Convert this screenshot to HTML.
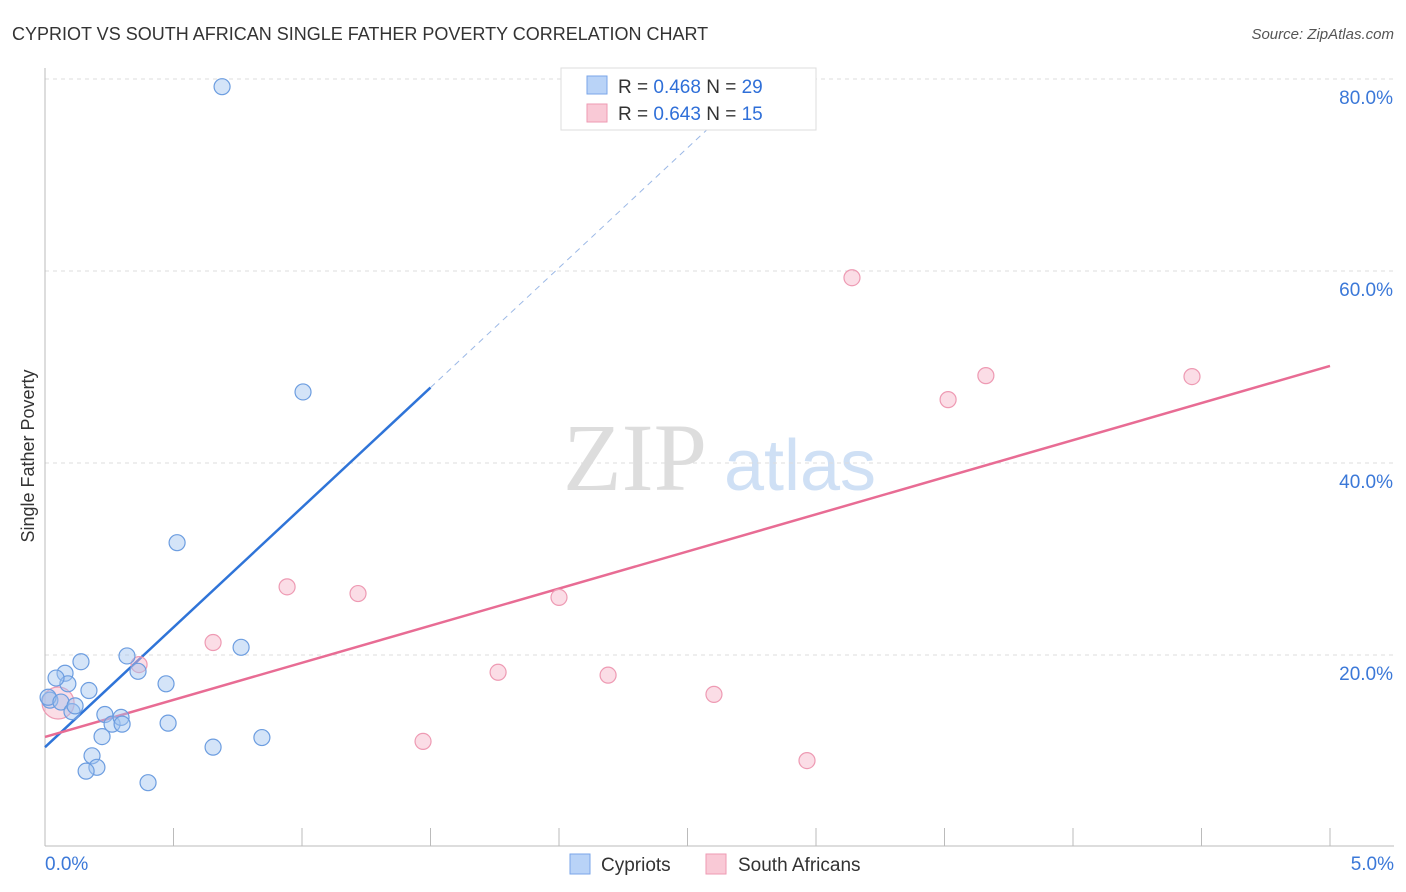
<!DOCTYPE html>
<html><head><meta charset="utf-8"><style>
body{margin:0;background:#fff;font-family:"Liberation Sans",sans-serif}
svg{display:block}
</style></head><body>
<svg id="c" width="1406" height="892">
<text x="12" y="40" font-size="18" fill="#333">CYPRIOT VS SOUTH AFRICAN SINGLE FATHER POVERTY CORRELATION CHART</text>
<text x="1394" y="39" font-size="15" fill="#555" font-style="italic" text-anchor="end">Source: ZipAtlas.com</text>
<text x="635" y="490" font-size="96" fill="#ddd" font-family="Liberation Serif,serif" text-anchor="middle">ZIP</text>
<text x="800" y="490" font-size="72" fill="#cfe0f5" text-anchor="middle">atlas</text>
<g id="grid"></g><g id="lines"></g><g id="pts"></g>
<text transform="translate(34,456) rotate(-90)" font-size="18" fill="#333" text-anchor="middle">Single Father Poverty</text>
<g>
<rect x="561" y="68" width="255" height="62" fill="#fff" stroke="#ddd"/>
<rect x="587" y="76" width="20" height="18" fill="#b9d3f7" stroke="#7aa6e8"/>
<rect x="587" y="104" width="20" height="18" fill="#f9c9d6" stroke="#ee9ab3"/>
<text x="618" y="93" font-size="19" fill="#333">R = <tspan fill="#2f6fd8">0.468</tspan>   N = <tspan fill="#2f6fd8">29</tspan></text>
<text x="618" y="120" font-size="19" fill="#333">R = <tspan fill="#2f6fd8">0.643</tspan>   N =  <tspan fill="#2f6fd8">15</tspan></text>
</g>
<g>
<rect x="570" y="854" width="20" height="20" fill="#b9d3f7" stroke="#7aa6e8"/>
<text x="601" y="871" font-size="19" fill="#333">Cypriots</text>
<rect x="706" y="854" width="20" height="20" fill="#f9c9d6" stroke="#ee9ab3"/>
<text x="738" y="871" font-size="19" fill="#333">South Africans</text>
</g>
</svg>
<script>
const blueX=[0.14,0.078,0.089,0.043,0.019,0.012,0.062,0.105,0.117,0.171,0.222,0.183,0.202,0.16,0.233,0.261,0.296,0.3,0.319,0.362,0.401,0.471,0.479,0.654,0.514,0.689,0.763,0.844,1.004];
const blueY=[19.3,18.1,17.0,17.6,15.3,15.6,15.1,14.1,14.7,16.3,11.5,9.5,8.3,7.9,13.8,12.8,13.5,12.8,19.9,18.3,6.7,17.0,12.9,10.4,31.7,79.2,20.8,11.4,47.4];
const pinkX=[0.051,0.366,0.654,0.942,1.218,1.471,1.763,2.0,2.191,2.603,2.965,3.14,3.514,3.661,4.463];
const pinkY=[15.0,19.0,21.3,27.1,26.4,11.0,18.2,26.0,17.9,15.9,9.0,59.3,46.6,49.1,49.0];
const yTicks=[20,40,60,80];
const xTicks=[0,0.5,1,1.5,2,2.5,3,3.5,4,4.5,5];
const blueLine=[10.4,24.97]; // intercept, slope
const pinkLine=[11.46,7.73];
const NS="http://www.w3.org/2000/svg";
const sx=v=>45+v*257, sy=v=>847-v*9.6;
function mk(p,t,a){const e=document.createElementNS(NS,t);for(const k in a)e.setAttribute(k,a[k]);document.getElementById(p).appendChild(e);return e;}
yTicks.forEach(t=>{
 const l=mk('grid','line',{x1:45,x2:1394,y1:sy(t),y2:sy(t),stroke:'#ddd','stroke-dasharray':'4,4'});
 
 
 const tx=mk('grid','text',{x:1393,y:sy(t)+25,'font-size':19,fill:'#3b78d8','text-anchor':'end'});
 tx.textContent=t.toFixed(1)+'%';
 
 
});
const ax=mk('grid','line',{x1:45,x2:1394,y1:846,y2:846,stroke:'#bbb'});


const ay=mk('grid','line',{x1:45,x2:45,y1:68,y2:846,stroke:'#bbb'});


xTicks.forEach(t=>{
 const l=mk('grid','line',{x1:sx(t),x2:sx(t),y1:828,y2:846,stroke:'#bbb'});
 
 
});
[[0,'0.0%','start',45],[5,'5.0%','end',1394]].forEach(a=>{
 const tx=mk('grid','text',{x:a[3],y:870,'font-size':19,fill:'#3b78d8','text-anchor':a[2]});
 tx.textContent=a[1];
 
 
});
const bf=x=>blueLine[0]+blueLine[1]*x, pf=x=>pinkLine[0]+pinkLine[1]*x;
const bl=mk('lines','line',{x1:sx(0),y1:sy(bf(0)),x2:sx(1.5),y2:sy(bf(1.5)),stroke:'#2f74d8','stroke-width':2.5});


const bd=mk('lines','line',{x1:sx(1.5),y1:sy(bf(1.5)),x2:sx(2.65),y2:sy(bf(2.65)),stroke:'#9bb8e6','stroke-width':1,'stroke-dasharray':'6,5'});


const pl=mk('lines','line',{x1:sx(0),y1:sy(pf(0)),x2:sx(5),y2:sy(pf(5)),stroke:'#e86c94','stroke-width':2.5});


pinkX.forEach((x,i)=>{
 const c=mk('pts','circle',{cx:sx(x),cy:sy(pinkY[i]),r:i===0?16:8,fill:'rgba(246,180,200,0.45)',stroke:'#ee9ab3','stroke-width':1.2});
 
 
});
blueX.forEach((x,i)=>{
 const c=mk('pts','circle',{cx:sx(x),cy:sy(blueY[i]),r:8,fill:'rgba(160,195,240,0.45)',stroke:'#6c9de0','stroke-width':1.2});
 
 
});
</script>
</body></html>
